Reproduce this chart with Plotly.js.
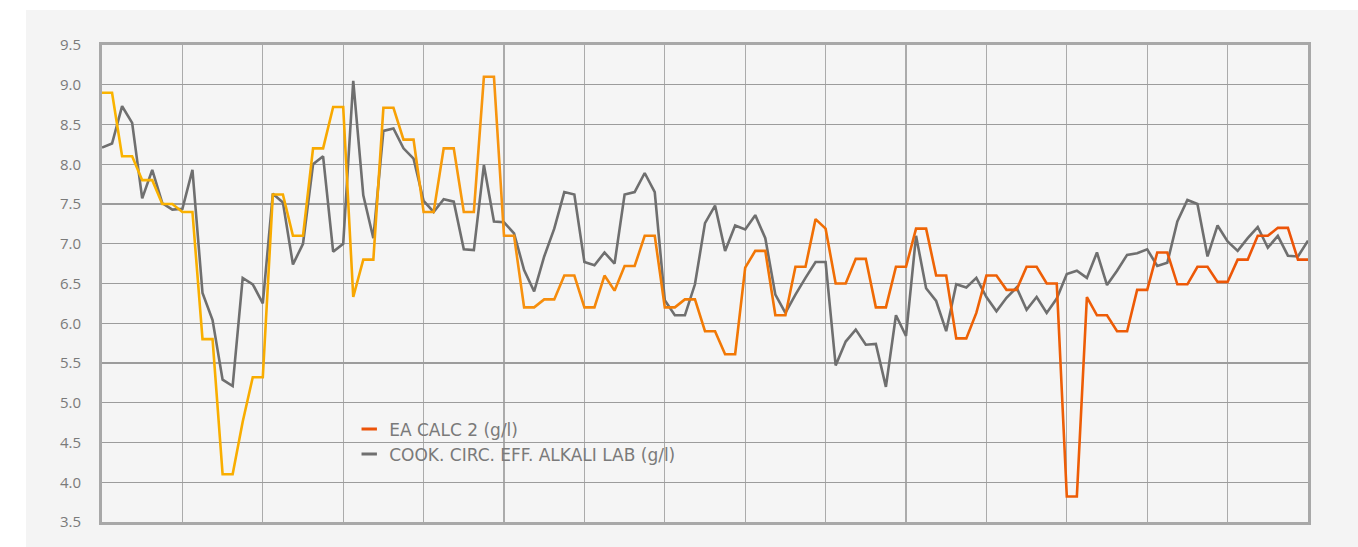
<!DOCTYPE html>
<html>
<head>
<meta charset="utf-8">
<script src="https://cdn.plot.ly/plotly-3.0.1.min.js"></script>
<style>
  html, body { margin: 0; padding: 0; background: #ffffff; }
  #panel { position: absolute; left: 26px; top: 10px; width: 1332px; height: 537px; background: #f4f4f4; }
  #chart { position: absolute; left: 0; top: 0; width: 1358px; height: 547px; }
</style>
</head>
<body>
<div id="panel"></div>
<div id="chart"></div>
<script>
// Sample index (121 samples, vertical gridline every 8 samples)
const sampleIndex = Array.from({length: 121}, (_, i) => i);

const eaCalc2 = [
  8.9, 8.9, 8.1, 8.1, 7.8, 7.8, 7.5, 7.5, 7.4, 7.4,
  5.8, 5.8, 4.1, 4.1, 4.76, 5.32, 5.32, 7.62, 7.62, 7.1,
  7.1, 8.2, 8.2, 8.72, 8.72, 6.33, 6.8, 6.8, 8.71, 8.71,
  8.31, 8.31, 7.4, 7.4, 8.2, 8.2, 7.4, 7.4, 9.1, 9.1,
  7.1, 7.1, 6.2, 6.2, 6.3, 6.3, 6.6, 6.6, 6.2, 6.2,
  6.6, 6.41, 6.72, 6.72, 7.1, 7.1, 6.2, 6.2, 6.3, 6.3,
  5.9, 5.9, 5.61, 5.61, 6.7, 6.91, 6.91, 6.1, 6.1, 6.71,
  6.71, 7.31, 7.19, 6.5, 6.5, 6.81, 6.81, 6.2, 6.2, 6.71,
  6.71, 7.19, 7.19, 6.6, 6.6, 5.81, 5.81, 6.13, 6.6, 6.6,
  6.42, 6.42, 6.71, 6.71, 6.5, 6.5, 3.82, 3.82, 6.33, 6.1,
  6.1, 5.9, 5.9, 6.42, 6.42, 6.89, 6.89, 6.49, 6.49, 6.71,
  6.71, 6.52, 6.52, 6.8, 6.8, 7.1, 7.1, 7.2, 7.2, 6.8,
  6.8
];

const cookCircEffAlkaliLab = [
  8.21, 8.26, 8.73, 8.52, 7.57, 7.93, 7.51, 7.43, 7.44, 7.93,
  6.38, 6.04, 5.29, 5.21, 6.57, 6.49, 6.25, 7.63, 7.52, 6.74,
  7.0, 8.0, 8.1, 6.9, 7.0, 9.05, 7.61, 7.07, 8.42, 8.45,
  8.2, 8.07, 7.54, 7.4, 7.56, 7.53, 6.93, 6.92, 7.99, 7.28,
  7.27, 7.13, 6.67, 6.4, 6.84, 7.19, 7.65, 7.62, 6.77, 6.73,
  6.89, 6.75, 7.62, 7.65, 7.89, 7.65, 6.29, 6.1, 6.1, 6.49,
  7.26, 7.48, 6.91, 7.23, 7.18, 7.36, 7.07, 6.36, 6.13, 6.36,
  6.57, 6.77, 6.77, 5.47, 5.77, 5.92, 5.73, 5.74, 5.2, 6.1,
  5.84, 7.1, 6.44, 6.28, 5.9, 6.49, 6.45, 6.57, 6.33, 6.15,
  6.32, 6.45, 6.17, 6.33, 6.13, 6.31, 6.62, 6.66, 6.57, 6.89,
  6.48, 6.66, 6.86, 6.88, 6.93, 6.72, 6.76, 7.28, 7.55, 7.5,
  6.84, 7.23, 7.03, 6.91, 7.07, 7.21, 6.95, 7.1, 6.85, 6.84,
  7.04
];

const yTickVals = [3.5, 4.0, 4.5, 5.0, 5.5, 6.0, 6.5, 7.0, 7.5, 8.0, 8.5, 9.0, 9.5];
const yTickText = ['3.5', '4.0', '4.5', '5.0', '5.5', '6.0', '6.5', '7.0', '7.5', '8.0', '8.5', '9.0', '9.5'];
const seriesNames = ['EA CALC 2 (g/l)', 'COOK. CIRC. EFF. ALKALI LAB (g/l)'];

const grayColor = '#6f6f6f';
const eaLegendColor = '#ec5308';
const plotBg = '#f5f5f5';
const fontFamily = '"Open Sans", Lato, sans-serif';
const legendFamily = '"DejaVu Sans", "Open Sans", sans-serif';

const traces = [
  {
    x: sampleIndex, y: cookCircEffAlkaliLab, type: 'scatter', mode: 'lines',
    line: {color: grayColor, width: 2.6}, showlegend: false, hoverinfo: 'skip'
  },
  {
    x: sampleIndex, y: eaCalc2, type: 'scatter', mode: 'lines',
    line: {color: eaLegendColor, width: 2.6}, showlegend: false, hoverinfo: 'skip'
  },
  {
    x: [null], y: [null], type: 'scatter', mode: 'markers', name: seriesNames[0],
    marker: {symbol: 'line-ew', size: 11, color: eaLegendColor, line: {color: eaLegendColor, width: 3}}
  },
  {
    x: [null], y: [null], type: 'scatter', mode: 'markers', name: seriesNames[1],
    marker: {symbol: 'line-ew', size: 11, color: grayColor, line: {color: grayColor, width: 3}}
  }
];

const layout = {
  width: 1358, height: 547,
  margin: {l: 102, r: 50, t: 45, b: 25, pad: 0},
  paper_bgcolor: 'rgba(0,0,0,0)',
  plot_bgcolor: plotBg,
  font: {family: fontFamily, color: '#7a7a7a', size: 15},
  xaxis: {
    range: [0, 120], tickmode: 'linear', tick0: 0, dtick: 8,
    showticklabels: false, ticks: '', showgrid: true,
    gridcolor: '#ababab', gridwidth: 1.2, zeroline: false,
    showline: true, mirror: true, linecolor: '#a8a8a8', linewidth: 3
  },
  yaxis: {
    range: [3.5, 9.5], tickmode: 'array', tickvals: yTickVals, ticktext: yTickText,
    ticks: '', ticklabelstandoff: 15, showgrid: true,
    gridcolor: '#9c9c9c', gridwidth: 1.3, zeroline: false,
    showline: true, mirror: true, linecolor: '#a8a8a8', linewidth: 3,
    tickfont: {family: fontFamily, size: 15, color: '#7a7a7a'}
  },
  shapes: [
    {type: 'rect', xref: 'paper', yref: 'paper', layer: 'between',
     x0: 0.2, x1: 0.534, y0: 0.108, y1: 0.2516,
     fillcolor: plotBg, line: {width: 0}}
  ],
  showlegend: true,
  legend: {
    x: 0.205, y: 0.232, xanchor: 'left', yanchor: 'top',
    bgcolor: 'rgba(0,0,0,0)', borderwidth: 0,
    font: {family: legendFamily, size: 17, color: '#7a7a7a'}, tracegroupgap: 0
  }
};

Plotly.newPlot('chart', traces, layout, {displayModeBar: false, staticPlot: true}).then(function (gd) {
  // Apply the left-to-right yellow→orange gradient seen on the EA CALC 2 line
  const svg = gd.querySelector('svg.main-svg');
  const defs = svg.querySelector('defs');
  const ns = 'http://www.w3.org/2000/svg';
  const plotW = gd._fullLayout._size.w;
  const grad = document.createElementNS(ns, 'linearGradient');
  grad.setAttribute('id', 'eaGrad');
  grad.setAttribute('gradientUnits', 'userSpaceOnUse');
  grad.setAttribute('x1', '0'); grad.setAttribute('y1', '0');
  grad.setAttribute('x2', String(plotW)); grad.setAttribute('y2', '0');
  const stops = [[0, '#fab400'], [0.2, '#f8a800'], [0.33, '#f79410'], [0.5, '#f27a05'], [0.7, '#ee6306'], [1, '#ec5308']];
  stops.forEach(function (s) {
    const st = document.createElementNS(ns, 'stop');
    st.setAttribute('offset', String(s[0]));
    st.setAttribute('stop-color', s[1]);
    grad.appendChild(st);
  });
  defs.appendChild(grad);
  const tracesG = gd.querySelectorAll('.scatterlayer .trace');
  const eaPath = tracesG[1].querySelector('path.js-line');
  if (eaPath) { eaPath.style.stroke = 'url(#eaGrad)'; }
});
</script>
</body>
</html>
